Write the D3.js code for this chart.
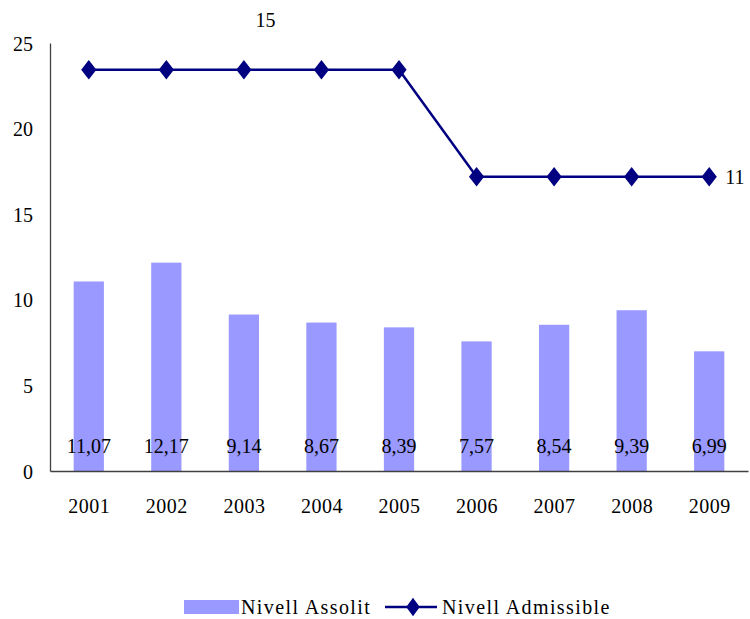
<!DOCTYPE html>
<html>
<head>
<meta charset="utf-8">
<script src="https://cdn.jsdelivr.net/npm/d3@7"></script>
<style>
  body { margin: 0; background: #fff; }
  text { font-family: "Liberation Serif", "DejaVu Serif", serif; fill: #000; }
</style>
</head>
<body>
<svg id="chart" width="750" height="619"></svg>
<script>
// data
var years = ["2001", "2002", "2003", "2004", "2005", "2006", "2007", "2008", "2009"];
var assolit = [11.07, 12.17, 9.14, 8.67, 8.39, 7.57, 8.54, 9.39, 6.99];
var admissible = [15, 15, 15, 15, 15, 11, 11, 11, 11];
var yTicks = [0, 5, 10, 15, 20, 25];
var seriesNames = ["Nivell Assolit", "Nivell Admissible"];

var svg = d3.select("#chart"),
    margin = {top: 43, right: 2, bottom: 148, left: 50},
    width = +svg.attr("width") - margin.left - margin.right,
    height = +svg.attr("height") - margin.top - margin.bottom;

var barColor = "#9999ff",
    lineColor = "#000080";

var x = d3.scaleBand().domain(years).range([0, width]).paddingInner(0.61).paddingOuter(0.305),
    xp = d3.scalePoint().domain(years).range([0, width]).padding(0.5),
    y = d3.scaleLinear().domain([0, 25]).range([height, 0]),
    // line sits on a hidden secondary axis
    y2 = d3.scaleLinear().domain([0, 16]).range([height, 0]);

var g = svg.append("g")
    .attr("transform", "translate(" + margin.left + "," + margin.top + ")");

// y axis
var yAxis = g.append("g")
    .call(d3.axisLeft(y).tickValues(yTicks).tickSize(0).tickPadding(17));
yAxis.select(".domain").attr("stroke", "#404040").attr("stroke-width", 1.3);
yAxis.selectAll("text").style("font-size", "20px").attr("dy", "0.35em");

// bars
g.selectAll(".bar")
    .data(assolit)
    .enter().append("rect")
    .attr("class", "bar")
    .attr("x", function (d, i) { return x(years[i]); })
    .attr("y", function (d) { return y(d); })
    .attr("width", x.bandwidth())
    .attr("height", function (d) { return height - y(d); })
    .style("fill", barColor);

// bar labels
g.selectAll(".barlab")
    .data(assolit)
    .enter().append("text")
    .attr("class", "barlab")
    .attr("x", function (d, i) { return xp(years[i]); })
    .attr("y", height - 25)
    .attr("dy", "0.35em")
    .attr("text-anchor", "middle")
    .style("font-size", "20px")
    .text(function (d) { return d3.format(".2f")(d).replace(".", ","); });

// x axis
var xAxis = g.append("g")
    .attr("transform", "translate(0," + height + ")")
    .call(d3.axisBottom(xp).tickSize(0).tickPadding(28));
xAxis.select(".domain").attr("stroke", "#404040").attr("stroke-width", 1.3);
xAxis.selectAll("text").style("font-size", "20px").style("letter-spacing", "0.5px");

// line
var line = d3.line()
    .x(function (d, i) { return xp(years[i]); })
    .y(function (d) { return y2(d); });

g.append("path")
    .datum(admissible)
    .attr("d", line)
    .attr("fill", "none")
    .attr("stroke", lineColor)
    .attr("stroke-width", 2.5);

var diamond = d3.symbol().type(d3.symbolDiamond).size(110);
g.selectAll(".pt")
    .data(admissible)
    .enter().append("path")
    .attr("class", "pt")
    .attr("d", diamond)
    .attr("transform", function (d, i) {
        return "translate(" + xp(years[i]) + "," + y2(d) + ") scale(1.35,1)";
    })
    .attr("fill", lineColor);

// line labels (first and last point)
g.append("text")
    .attr("x", xp("2003") + 0.28 * xp.step())
    .attr("y", y2(admissible[0]) - 50)
    .attr("dy", "0.35em")
    .attr("text-anchor", "middle")
    .style("font-size", "20px")
    .text(admissible[0]);

g.append("text")
    .attr("x", xp("2009") + 16)
    .attr("y", y2(admissible[admissible.length - 1]))
    .attr("dy", "0.35em")
    .style("font-size", "20px")
    .text(admissible[admissible.length - 1]);

// legend
var lg = svg.append("g").attr("transform", "translate(184,607)");
lg.append("rect")
    .attr("x", 0).attr("y", -7).attr("width", 55).attr("height", 14)
    .attr("fill", barColor);
lg.append("text")
    .attr("x", 57).attr("dy", "0.35em")
    .style("font-size", "20px").style("letter-spacing", "1.4px")
    .text(seriesNames[0]);
lg.append("line")
    .attr("x1", 201).attr("x2", 253)
    .attr("stroke", lineColor).attr("stroke-width", 2.5);
lg.append("path")
    .attr("d", diamond)
    .attr("transform", "translate(229,0) scale(1.2,0.95)")
    .attr("fill", lineColor);
lg.append("text")
    .attr("x", 258).attr("dy", "0.35em")
    .style("font-size", "20px").style("letter-spacing", "1.4px")
    .text(seriesNames[1]);
</script>
</body>
</html>
